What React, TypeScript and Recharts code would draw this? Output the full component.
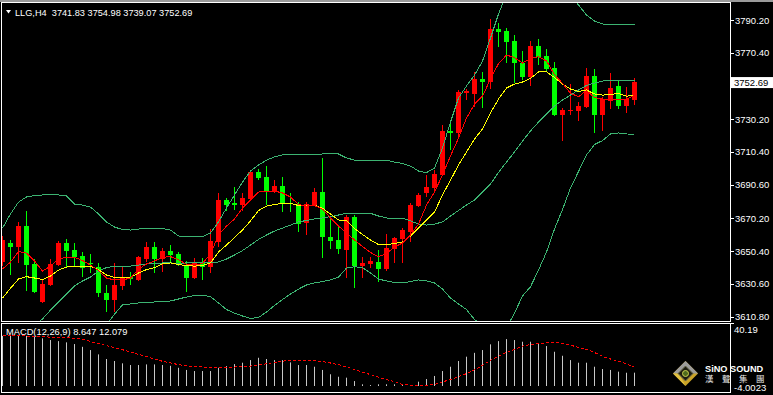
import { Bar, ComposedChart, Line, XAxis, YAxis } from "recharts";

// LLG H4 candles, oldest first
const opens = [
  3643.9, 3655.4, 3652.9, 3665.6, 3642.7, 3619.7, 3630.0, 3642.0, 3655.4, 3651.1,
  3647.5, 3643.3, 3640.8, 3625.1, 3620.9, 3629.4, 3634.8, 3633.0, 3645.7, 3652.9,
  3645.7, 3650.5, 3648.7, 3642.0, 3634.2, 3643.9, 3640.8, 3656.0, 3681.4, 3679.5,
  3678.3, 3682.0, 3698.3, 3695.3, 3686.8, 3689.8, 3679.5, 3678.9, 3667.4, 3678.3,
  3686.2, 3659.0, 3657.2, 3651.1, 3671.1, 3641.4, 3642.7, 3643.9, 3639.6, 3651.7,
  3657.8, 3662.0, 3677.7, 3685.6, 3688.6, 3696.5, 3723.1, 3721.9, 3746.1, 3745.5,
  3754.5, 3752.7, 3784.8, 3783.5, 3777.5, 3764.2, 3755.7, 3774.5, 3768.4, 3761.2,
  3732.8, 3735.2, 3735.2, 3737.6, 3756.3, 3732.8, 3741.2, 3750.3, 3738.2, 3741.83,
];
const highs = [
  3659.6, 3657.2, 3668.1, 3674.7, 3645.7, 3633.6, 3645.7, 3656.6, 3657.8, 3655.4,
  3649.9, 3648.7, 3643.3, 3630.0, 3643.3, 3641.4, 3637.8, 3647.5, 3656.0, 3656.0,
  3652.3, 3654.1, 3649.9, 3644.5, 3646.3, 3646.3, 3663.8, 3685.6, 3682.6, 3689.2,
  3685.6, 3698.9, 3700.1, 3701.9, 3693.4, 3695.3, 3685.6, 3680.1, 3680.1, 3688.6,
  3706.8, 3671.7, 3665.0, 3672.3, 3672.3, 3646.9, 3646.9, 3651.1, 3660.8, 3659.0,
  3664.4, 3679.5, 3685.6, 3696.5, 3699.5, 3726.7, 3727.9, 3747.9, 3748.5, 3758.8,
  3758.8, 3790.8, 3788.4, 3785.4, 3781.1, 3771.5, 3777.5, 3778.7, 3772.7, 3764.8,
  3737.0, 3751.5, 3740.6, 3761.2, 3760.6, 3743.6, 3758.2, 3753.3, 3749.7, 3754.98,
];
const lows = [
  3641.4, 3636.0, 3643.3, 3626.3, 3625.1, 3619.1, 3629.4, 3641.4, 3640.8, 3641.4,
  3634.8, 3637.2, 3622.7, 3613.6, 3613.6, 3626.9, 3630.0, 3632.4, 3643.9, 3637.2,
  3637.8, 3643.3, 3641.4, 3625.7, 3633.6, 3633.0, 3637.2, 3652.9, 3674.7, 3675.3,
  3674.7, 3681.4, 3693.4, 3678.3, 3685.6, 3674.1, 3674.1, 3662.0, 3660.2, 3677.7,
  3646.3, 3651.7, 3648.7, 3634.2, 3628.1, 3634.2, 3640.2, 3631.8, 3638.4, 3643.3,
  3643.3, 3656.0, 3677.1, 3683.2, 3685.6, 3695.9, 3711.6, 3718.8, 3741.8, 3737.6,
  3737.0, 3748.5, 3773.9, 3764.2, 3752.1, 3753.9, 3750.3, 3763.0, 3758.8, 3732.1,
  3717.0, 3732.8, 3729.1, 3737.0, 3721.9, 3723.1, 3736.4, 3736.4, 3734.0, 3739.07,
];
const closes = [
  3657.2, 3652.9, 3665.6, 3642.0, 3625.7, 3630.6, 3642.7, 3655.4, 3650.5, 3646.9,
  3640.2, 3642.7, 3625.1, 3620.9, 3630.0, 3634.8, 3633.6, 3646.9, 3652.9, 3645.7,
  3650.5, 3648.1, 3642.0, 3634.2, 3643.3, 3640.8, 3656.6, 3681.4, 3678.3, 3678.3,
  3682.6, 3698.3, 3694.7, 3686.8, 3689.8, 3679.5, 3678.9, 3666.8, 3678.9, 3686.2,
  3659.0, 3656.6, 3651.7, 3671.1, 3641.4, 3643.3, 3644.5, 3639.6, 3652.3, 3658.4,
  3663.2, 3678.3, 3684.4, 3689.2, 3697.1, 3723.1, 3721.9, 3746.7, 3747.3, 3754.5,
  3752.7, 3784.8, 3782.9, 3776.9, 3764.2, 3755.7, 3774.5, 3767.8, 3760.6, 3732.8,
  3735.8, 3735.8, 3738.2, 3756.3, 3732.8, 3742.4, 3749.1, 3738.2, 3742.4, 3752.69,
];

// bollinger bands (off-screen parts estimated)
const bandUpper = [
  3664.4, 3672.9, 3680.1, 3683.2, 3684.1, 3684.4, 3684.4, 3684.4, 3683.8, 3678.9,
  3678.3, 3677.1, 3672.9, 3668.1, 3665.0, 3663.5, 3663.2, 3663.8, 3664.2, 3664.2,
  3664.2, 3663.2, 3659.6, 3659.2, 3659.2, 3659.2, 3661.4, 3668.1, 3676.5, 3684.4,
  3692.2, 3698.9, 3702.5, 3705.5, 3707.4, 3708.6, 3708.6, 3708.6, 3708.6, 3708.6,
  3709.2, 3709.2, 3709.2, 3706.8, 3705.5, 3705.5, 3705.5, 3705.5, 3705.5, 3704.3,
  3703.5, 3701.9, 3698.9, 3697.9, 3700.7, 3712.8, 3728.5, 3743.0, 3750.3, 3756.9,
  3765.4, 3779.3, 3793.8, 3806.0, 3812.0, 3815.0, 3817.0, 3817.0, 3816.0, 3814.0,
  3810.0, 3805.0, 3799.3, 3793.2, 3789.6, 3787.8, 3787.2, 3787.2, 3787.2, 3787.2,
];
const bandMiddle = [
  3593.7, 3596.7, 3599.7, 3602.7, 3605.8, 3609.4, 3614.8, 3619.7, 3624.5, 3629.4,
  3632.4, 3634.8, 3638.4, 3640.5, 3641.4, 3641.4, 3641.4, 3642.0, 3642.7, 3643.0,
  3643.3, 3643.3, 3643.1, 3643.3, 3643.3, 3643.3, 3643.3, 3643.9, 3645.7, 3648.1,
  3650.8, 3654.1, 3657.5, 3660.2, 3662.6, 3664.4, 3666.2, 3668.1, 3669.0, 3669.9,
  3670.5, 3671.3, 3672.3, 3673.3, 3673.3, 3673.3, 3673.3, 3671.7, 3670.5, 3670.3,
  3670.3, 3668.7, 3666.8, 3666.2, 3666.8, 3668.1, 3671.7, 3675.0, 3678.3, 3681.4,
  3686.2, 3691.0, 3698.0, 3704.3, 3710.4, 3717.0, 3723.1, 3728.5, 3733.4, 3738.2,
  3741.8, 3744.8, 3747.9, 3750.6, 3752.1, 3753.3, 3753.9, 3753.9, 3753.9, 3753.9,
];
const bandLower = [
  3522.9, 3520.5, 3519.3, 3522.3, 3527.5, 3534.4, 3545.3, 3555.0, 3565.3, 3579.8,
  3586.4, 3592.5, 3599.7, 3605.8, 3612.4, 3617.9, 3618.5, 3619.1, 3619.4, 3619.7,
  3619.9, 3620.3, 3621.5, 3622.7, 3623.6, 3623.9, 3622.9, 3619.1, 3615.1, 3613.0,
  3611.2, 3609.8, 3610.3, 3613.6, 3617.6, 3621.2, 3624.5, 3627.5, 3630.0, 3631.2,
  3632.1, 3633.0, 3634.8, 3640.2, 3641.0, 3640.5, 3637.2, 3633.6, 3632.4, 3631.5,
  3631.2, 3632.1, 3633.0, 3632.4, 3631.2, 3627.5, 3622.1, 3618.5, 3615.1, 3609.1,
  3605.8, 3601.5, 3600.3, 3604.0, 3613.0, 3623.3, 3628.9, 3639.0, 3649.9, 3663.8,
  3675.6, 3688.6, 3698.6, 3708.6, 3714.9, 3717.3, 3721.3, 3721.9, 3721.3, 3721.1,
];
// fast (red) and slow (yellow) moving averages
const maFast = [
  3639.6, 3643.9, 3650.2, 3649.3, 3644.5, 3638.4, 3641.4, 3645.7, 3646.7, 3646.7,
  3644.8, 3642.0, 3638.7, 3634.2, 3633.0, 3633.0, 3634.2, 3639.6, 3642.7, 3644.5,
  3646.7, 3647.1, 3645.4, 3642.4, 3642.0, 3643.0, 3648.7, 3660.2, 3665.6, 3669.9,
  3676.5, 3681.4, 3686.2, 3686.8, 3686.8, 3685.6, 3683.2, 3678.6, 3677.7, 3678.0,
  3675.9, 3670.5, 3665.6, 3661.4, 3657.2, 3653.2, 3649.6, 3647.1, 3649.0, 3652.9,
  3655.4, 3660.2, 3666.8, 3678.3, 3686.2, 3696.5, 3708.0, 3718.8, 3730.9, 3739.4,
  3744.2, 3754.5, 3763.9, 3769.0, 3767.5, 3764.2, 3767.0, 3768.0, 3765.4, 3757.2,
  3751.9, 3745.9, 3743.8, 3747.6, 3743.3, 3742.4, 3742.2, 3742.2, 3742.4, 3744.8,
];
const maSlow = [
  3622.1, 3628.0, 3633.6, 3635.0, 3634.2, 3633.3, 3635.4, 3639.0, 3640.8, 3641.4,
  3641.4, 3641.3, 3639.3, 3636.0, 3634.6, 3634.6, 3634.6, 3637.2, 3639.3, 3640.5,
  3642.7, 3643.3, 3642.4, 3641.7, 3641.4, 3641.7, 3643.4, 3649.9, 3654.1, 3658.7,
  3663.2, 3668.7, 3675.0, 3677.7, 3678.6, 3679.4, 3679.4, 3678.0, 3678.3, 3678.3,
  3676.3, 3672.9, 3669.3, 3669.0, 3664.1, 3660.5, 3657.2, 3654.4, 3654.4, 3655.1,
  3656.0, 3659.6, 3664.4, 3669.3, 3674.1, 3684.4, 3693.4, 3702.5, 3710.4, 3718.2,
  3724.3, 3734.0, 3742.4, 3749.1, 3751.5, 3752.7, 3754.9, 3758.8, 3758.9, 3755.4,
  3751.5, 3748.5, 3747.0, 3747.9, 3745.5, 3744.8, 3745.2, 3745.8, 3744.1, 3744.8,
];

// MACD(12,26,9)
const macdMain = [
  32.5, 32.5, 32.5, 32.5, 31.9, 30.9, 29.8, 29.1, 28.3, 27.2,
  25.4, 23.3, 20.5, 17.5, 16.2, 14.7, 13.6, 13.6, 14.0, 14.0,
  13.6, 13.1, 11.8, 10.4, 9.7, 9.7, 9.7, 11.8, 12.9, 14.2,
  15.1, 16.8, 18.3, 17.5, 16.8, 16.8, 15.3, 13.6, 13.6, 12.5,
  10.4, 7.6, 6.0, 5.4, 3.2, 1.1, 0.6, 1.1, 1.1, 1.1,
  0.6, 0.6, 2.8, 4.5, 6.5, 9.7, 12.5, 16.2, 19.0, 21.5,
  23.3, 27.0, 29.1, 30.4, 29.8, 28.7, 28.7, 27.6, 25.9, 22.2,
  19.6, 16.8, 15.1, 15.1, 12.5, 11.0, 10.4, 9.3, 8.6, 8.647,
];
const macdSignal = [
  32.7, 32.7, 32.5, 32.4, 32.2, 31.9, 31.7, 31.5, 31.3, 30.9,
  30.4, 28.8, 27.5, 26.1, 24.8, 23.5, 22.1, 20.5, 19.1, 17.5,
  16.0, 15.0, 13.8, 13.2, 12.5, 12.3, 12.1, 12.1, 12.1, 12.3,
  12.5, 12.9, 13.5, 14.4, 15.3, 16.1, 16.6, 16.8, 16.8, 16.5,
  15.8, 14.9, 13.8, 12.4, 10.7, 8.9, 7.4, 5.7, 4.2, 2.9,
  1.0, 0.6, 0.3, 0.3, 1.0, 2.6, 4.3, 6.0, 8.0, 10.5,
  13.4, 16.6, 19.4, 21.8, 23.6, 25.9, 26.9, 27.4, 28.0, 28.2,
  27.6, 26.5, 25.0, 23.8, 21.7, 19.2, 17.5, 16.0, 14.4, 12.079,
];

const PRICE_TICKS = [3790.2, 3770.4, 3730.2, 3710.4, 3690.6, 3670.2, 3650.4, 3630.6, 3610.8, 3752.69];
const LAST_PRICE = 3752.69;
const MACD_TOP = 40.19;

const rows = opens.map((open, i) => ({
  i,
  open,
  high: highs[i],
  low: lows[i],
  close: closes[i],
  upper: bandUpper[i],
  middle: bandMiddle[i],
  lower: bandLower[i],
  fast: maFast[i],
  slow: maSlow[i],
  macd: macdMain[i],
  signal: macdSignal[i],
}));

const X_DOMAIN: [number, number] = [-0.1875, 90.9375];
const FONT = "'Liberation Sans', Arial, sans-serif";
const BAND = "#3cb371";

function Candle(props: any) {
  const { x, y, width, height, payload } = props;
  if (x == null || y == null || !payload) return null;
  const cx = Math.round(x + width / 2 - 0.5) + 0.5;
  const { open, close, high, low } = payload;
  const h = Math.abs(height);
  const top0 = height < 0 ? y + height : y;
  const toY = (p: number) => top0 + ((high - p) / (high - low)) * h;
  const color = close >= open ? "#ff0000" : "#00ff00";
  const bodyTop = Math.round(toY(Math.max(open, close)));
  const bodyBot = Math.round(toY(Math.min(open, close)));
  return (
    <g>
      <line x1={cx} x2={cx} y1={Math.round(top0)} y2={Math.round(top0 + h)} stroke={color} strokeWidth={1} />
      <rect x={cx - 2.5} y={bodyTop} width={5} height={Math.max(1, bodyBot - bodyTop)} fill={color} />
    </g>
  );
}

function HistBar(props: any) {
  const { x, y, width, height } = props;
  if (x == null || y == null) return null;
  const cx = Math.floor(x + width / 2);
  return <rect x={cx} y={y} width={1} height={Math.max(0, height)} fill="#c8c8c8" />;
}

function PriceTick(props: any) {
  const { y, payload } = props;
  const v = payload.value as number;
  if (v === LAST_PRICE) {
    return (
      <g>
        <rect x={731} y={y - 5} width={42} height={11} fill="#ffffff" />
        <text x={734} y={y + 3.5} fill="#000000" fontSize={9.5} fontFamily={FONT}>
          {v.toFixed(2)}
        </text>
      </g>
    );
  }
  return (
    <g>
      <line x1={731} x2={734} y1={Math.round(y) + 0.5} y2={Math.round(y) + 0.5} stroke="#ffffff" />
      <text x={735} y={y + 3.5} fill="#ffffff" fontSize={9.5} fontFamily={FONT}>
        {v.toFixed(2)}
      </text>
    </g>
  );
}

function MacdTick(props: any) {
  const { y, payload } = props;
  return (
    <g>
      <line x1={731} x2={734} y1={Math.round(y) - 0.5} y2={Math.round(y) - 0.5} stroke="#ffffff" />
      <text x={734} y={y + 8.5} fill="#ffffff" fontSize={9.5} fontFamily={FONT}>
        {payload.value}
      </text>
    </g>
  );
}

function Logo() {
  return (
    <g>
      <polygon points="685.5,361 698,373.5 685.5,386 673,373.5" fill="#c9a227" />
      <polygon points="685.5,361 698,373.5 673,373.5" fill="#9c9c9c" />
      <polygon points="673,373.5 685.5,386 679,373.5" fill="#e0c040" />
      <polygon points="685.5,366 693,373.5 685.5,381 678,373.5" fill="#1c1c10" stroke="#6b6b4a" />
      <circle cx={685.5} cy={373.5} r={3} fill="#4f6b1e" stroke="#c8d050" strokeWidth={1} />
      <text x={705} y={372} fill="#ffffff" fontSize={9.2} fontWeight="bold" fontFamily={FONT}>
        SiNO SOUND
      </text>
      {["漢", "聲", "集", "團"].map((ch, k) => (
        <text
          key={ch}
          x={705 + k * 17}
          y={382}
          fill="#e8e8e8"
          fontSize={8.5}
          fontFamily="'Noto Sans CJK TC', sans-serif"
        >
          {ch}
        </text>
      ))}
    </g>
  );
}

const lineProps = {
  strokeWidth: 1,
  dot: false,
  activeDot: false,
  isAnimationActive: false,
  shapeRendering: "crispEdges",
} as const;

export default function App() {
  return (
    <div style={{ position: "absolute", left: 0, top: 0, width: 773, height: 395, background: "#000", overflow: "hidden" }}>
      <ComposedChart
        width={773}
        height={323}
        data={rows}
        margin={{ top: 3, right: 0, bottom: 2, left: 1 }}
        style={{ position: "absolute", left: 0, top: 0 }}
      >
        <XAxis dataKey="i" type="number" domain={X_DOMAIN} allowDataOverflow hide />
        <YAxis
          orientation="right"
          width={43}
          domain={[3608.2, 3800.5]}
          allowDataOverflow
          ticks={PRICE_TICKS}
          interval={0}
          axisLine={false}
          tickLine={false}
          tick={<PriceTick />}
        />
        <Bar dataKey={(d: any) => [d.low, d.high]} shape={<Candle />} barSize={5} isAnimationActive={false} />
        <Line dataKey="upper" stroke={BAND} {...lineProps} />
        <Line dataKey="middle" stroke={BAND} {...lineProps} />
        <Line dataKey="lower" stroke={BAND} {...lineProps} />
        <Line dataKey="slow" stroke="#ffff00" {...lineProps} />
        <Line dataKey="fast" stroke="#ff0000" {...lineProps} />
      </ComposedChart>

      <ComposedChart
        width={773}
        height={395}
        data={rows}
        margin={{ top: 324, right: 0, bottom: 3, left: 1 }}
        style={{ position: "absolute", left: 0, top: 0 }}
      >
        <XAxis dataKey="i" type="number" domain={X_DOMAIN} allowDataOverflow hide />
        <YAxis
          orientation="right"
          width={43}
          domain={[-3.89, MACD_TOP]}
          allowDataOverflow
          ticks={[MACD_TOP]}
          interval={0}
          axisLine={false}
          tickLine={false}
          tick={<MacdTick />}
        />
        <Bar dataKey="macd" shape={<HistBar />} barSize={1} isAnimationActive={false} />
        <Line dataKey="signal" stroke="#ff0000" strokeDasharray="3 2" {...lineProps} />
      </ComposedChart>

      <svg width={773} height={395} style={{ position: "absolute", left: 0, top: 0, pointerEvents: "none" }}>
        <rect x={0} y={0} width={773} height={2} fill="#9a9a9a" />
        <rect x={1.5} y={2.5} width={729} height={319} fill="none" stroke="#ffffff" />
        <rect x={1.5} y={323.5} width={729} height={69} fill="none" stroke="#ffffff" />
        <polygon points="6,10 11,10 8.5,13.5" fill="#ffffff" />
        <text x={15} y={16} fill="#ffffff" fontSize={9.2} fontFamily={FONT} style={{ whiteSpace: "pre" }}>
          {"LLG,H4  3741.83 3754.98 3739.07 3752.69"}
        </text>
        <text x={6} y={334.5} fill="#ffffff" fontSize={9.3} fontFamily={FONT}>
          MACD(12,26,9) 8.647 12.079
        </text>
        <text x={734} y={391} fill="#ffffff" fontSize={9.5} fontFamily={FONT}>
          -4.0023
        </text>
        <Logo />
      </svg>
    </div>
  );
}
